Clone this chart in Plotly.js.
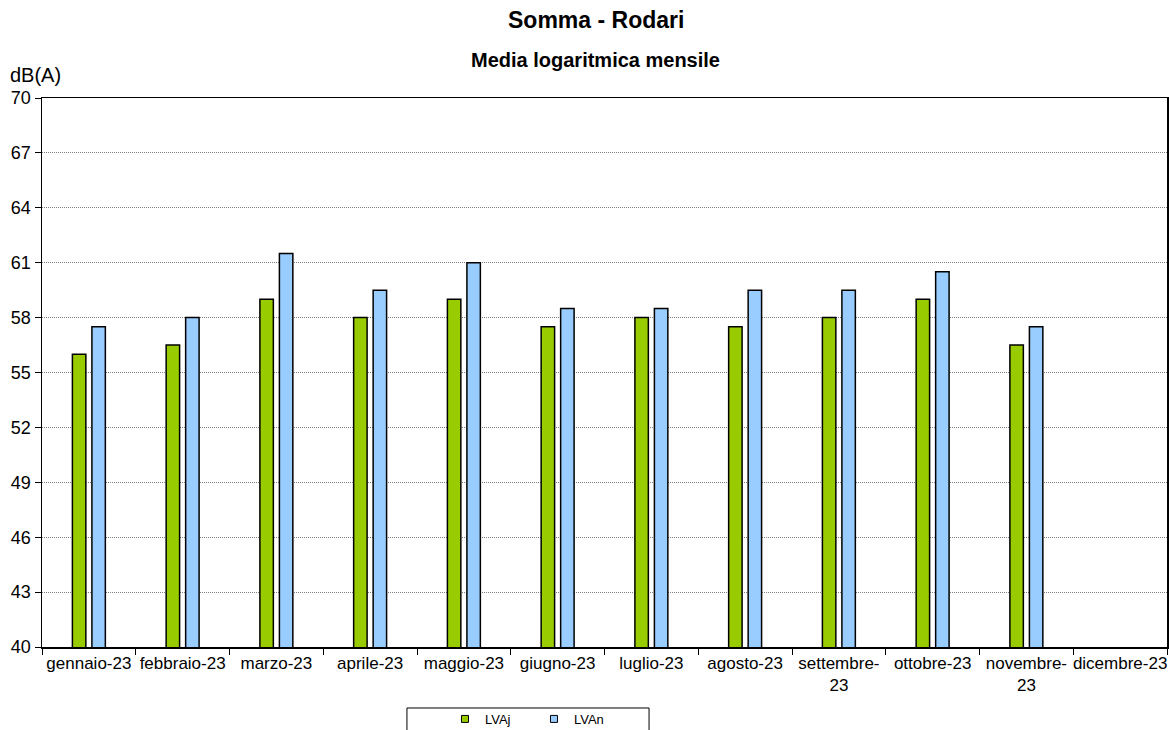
<!DOCTYPE html>
<html>
<head>
<meta charset="utf-8">
<script src="https://cdn.plot.ly/plotly-3.0.1.min.js"></script>
<style>html,body{margin:0;padding:0;background:#fff;}#chart{width:1169px;height:730px;}</style>
</head>
<body>
<div id="chart"></div>
<script>
const months = ["gennaio-23","febbraio-23","marzo-23","aprile-23","maggio-23","giugno-23","luglio-23","agosto-23","settembre-<br>23","ottobre-23","novembre-<br>23","dicembre-23"];
const lvaj = [56, 56.5, 59, 58, 59, 57.5, 58, 57.5, 58, 59, 56.5, null];
const lvan = [57.5, 58, 61.5, 59.5, 61, 58.5, 58.5, 59.5, 59.5, 60.5, 57.5, null];
const yTicks = [40,43,46,49,52,55,58,61,64,67,70];
const seriesNames = ["LVAj","LVAn"];
const seriesColors = ["#99CC00","#99CCFF"];

const font = "Liberation Sans, Arial, sans-serif";
const traces = [
  {type:"bar", name:seriesNames[0], x:months, y:lvaj, showlegend:false,
   marker:{color:seriesColors[0], line:{color:"#000", width:1.5}}},
  {type:"bar", name:seriesNames[1], x:months, y:lvan, showlegend:false,
   marker:{color:seriesColors[1], line:{color:"#000", width:1.5}}},
  // legend entries (small square keys like the original)
  {type:"scatter", mode:"markers", name:seriesNames[0], x:[null], y:[null], showlegend:true,
   marker:{symbol:"square", size:7, color:seriesColors[0], line:{color:"#000", width:1}}},
  {type:"scatter", mode:"markers", name:seriesNames[1], x:[null], y:[null], showlegend:true,
   marker:{symbol:"square", size:7, color:seriesColors[1], line:{color:"#000", width:1}}}
];
const layout = {
  width:1169, height:730,
  margin:{l:42, r:2, t:98, b:83, autoexpand:false},
  paper_bgcolor:"#fff", plot_bgcolor:"#fff",
  font:{family:font, size:17, color:"#000"},
  barmode:"group", bargap:0.584, bargroupgap:0.31,
  showlegend:true,
  legend:{orientation:"h", x:0.3582, xanchor:"left", y:-0.1038, yanchor:"top",
    borderwidth:0, bgcolor:"rgba(0,0,0,0)", font:{size:13, family:font},
    entrywidth:44, itemwidth:30},
  xaxis:{type:"category", categoryorder:"array", categoryarray:months, range:[-0.5, 11.5],
    showline:true, linecolor:"#000", linewidth:1.5, mirror:true, tickangle:0,
    ticks:"outside", tickson:"boundaries", ticklen:6, tickcolor:"#000",
    showgrid:false, tickfont:{size:17}, automargin:false},
  yaxis:{range:[40,70], tickvals:yTicks, showline:true, linecolor:"#000", linewidth:1.5, mirror:true,
    ticks:"outside", ticklen:6, tickcolor:"#000", automargin:false,
    showgrid:true, gridcolor:"#808080", griddash:"1px,1px", gridwidth:1, zeroline:false, tickfont:{size:18}},
  shapes:[
    {type:"rect", xref:"paper", yref:"paper", x0:0.3244, x1:0.5396, y0:-0.1111, y1:-0.2,
     line:{color:"#000", width:1}, fillcolor:"rgba(0,0,0,0)"}
  ],
  annotations:[
    {text:"<b>Somma - Rodari</b>", xref:"paper", yref:"paper", x:0.4924, y:1, yshift:78, showarrow:false, font:{size:23}, xanchor:"center", yanchor:"middle"},
    {text:"<b>Media logaritmica mensile</b>", xref:"paper", yref:"paper", x:0.4924, y:1, yshift:38, showarrow:false, font:{size:20}, xanchor:"center", yanchor:"middle"},
    {text:"dB(A)", xref:"paper", yref:"paper", x:0, xshift:-34, xanchor:"left", y:1, yshift:23, yanchor:"middle", showarrow:false, font:{size:20}}
  ]
};
Plotly.newPlot("chart", traces, layout, {staticPlot:true, displayModeBar:false});
</script>
</body>
</html>
